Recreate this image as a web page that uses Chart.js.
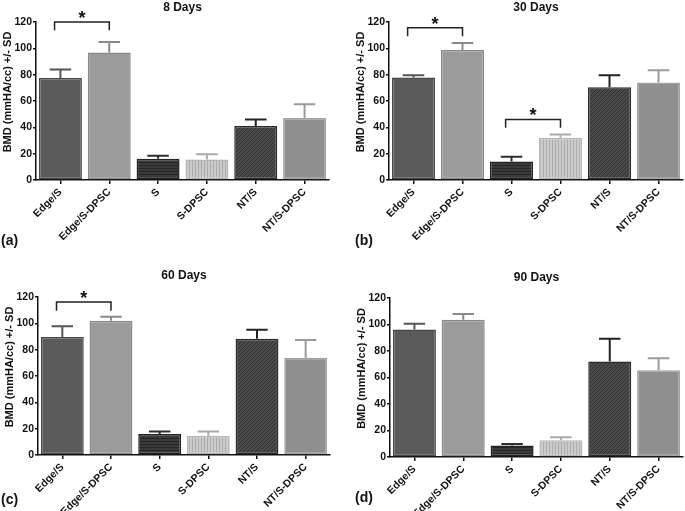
<!DOCTYPE html>
<html>
<head>
<meta charset="utf-8">
<script src="https://cdn.jsdelivr.net/npm/chart.js@4.4.1/dist/chart.umd.min.js"></script>
<style>
  body { margin: 0; background: #fff; }
  #wrap { position: relative; width: 685px; height: 511px; overflow: hidden; }
  canvas { position: absolute; }
  .lab { position: absolute; font: bold 14px "Liberation Sans", Arial, sans-serif; color: #111; line-height: 14px; }
</style>
</head>
<body>
<div id="wrap">
  <canvas id="c8" width="342" height="255" style="left:0;top:0"></canvas>
  <canvas id="c30" width="343" height="255" style="left:342px;top:0"></canvas>
  <canvas id="c60" width="342" height="256" style="left:0;top:255px"></canvas>
  <canvas id="c90" width="343" height="256" style="left:342px;top:255px"></canvas>
  <div class="lab" style="left:1px;top:233px">(a)</div>
  <div class="lab" style="left:355px;top:233px">(b)</div>
  <div class="lab" style="left:1px;top:492px">(c)</div>
  <div class="lab" style="left:355px;top:490px">(d)</div>
</div>
<script>
const groups = ['Edge/S', 'Edge/S-DPSC', 'S', 'S-DPSC', 'NT/S', 'NT/S-DPSC'];
const yTicks = [0, 20, 40, 60, 80, 100, 120];

// mean BMD and SD per group
const bmd8 = [77.5, 96.8, 16.2, 15.6, 41.1, 47.0];
const sd8 = [6.4, 8.0, 2.2, 3.9, 4.9, 10.5];
const bmd30 = [77.8, 98.8, 14.1, 32.1, 70.5, 74.0];
const sd30 = [1.8, 5.2, 3.6, 2.5, 9.1, 9.4];
const bmd60 = [89.6, 102.0, 16.0, 14.7, 88.3, 73.8];
const sd60 = [8.1, 3.0, 1.8, 3.1, 6.9, 13.5];
const bmd90 = [96.3, 103.6, 8.6, 12.6, 72.0, 65.4];
const sd90 = [4.3, 4.3, 1.3, 2.3, 17.2, 9.1];

// significance brackets: [from, to, top, legs]
const sig8 = [[0, 1, 120, 113.7]];
const sig30 = [[0, 1, 115.7, 109.1], [2, 3, 46, 39.7]];
const sig60 = [[0, 1, 116.2, 109.6]];
const sig90 = [];

const FONT = '"Liberation Sans", Arial, sans-serif';

function stripes(base, line, kind) {
  const c = document.createElement('canvas');
  c.width = kind === 'diag' ? 4 : 3;
  c.height = kind === 'diag' ? 4 : 3;
  const g = c.getContext('2d');
  g.fillStyle = base;
  g.fillRect(0, 0, c.width, c.height);
  g.strokeStyle = line;
  g.lineWidth = 1;
  g.beginPath();
  if (kind === 'h') { g.moveTo(0, 0.5); g.lineTo(3, 0.5); }
  else if (kind === 'v') { g.moveTo(0.5, 0); g.lineTo(0.5, 3); }
  else {
    g.moveTo(0, 4); g.lineTo(4, 0);
    g.moveTo(-1, 1); g.lineTo(1, -1);
    g.moveTo(3, 5); g.lineTo(5, 3);
  }
  g.stroke();
  return g.createPattern(c, 'repeat');
}

const fills = [
  '#5b5b5b',
  '#9b9b9b',
  stripes('#3a3a3a', '#262626', 'h'),
  stripes('#cbcbcb', '#adadad', 'v'),
  stripes('#4a4a4a', '#303030', 'diag'),
  '#8f8f8f'
];
const borders = ['#484848', '#888888', '#222222', '#b5b5b5', '#2a2a2a', '#a2a2a2'];
const errColors = ['#555555', '#8a8a8a', '#2e2e2e', '#aaaaaa', '#222222', '#9a9a9a'];

const extras = {
  id: 'extras',
  afterDatasetsDraw(chart, args, opts) {
    const { ctx, scales: { x, y } } = chart;
    const meta = chart.getDatasetMeta(0);
    ctx.save();
    ctx.lineWidth = 2;
    meta.data.forEach((bar, i) => {
      const yTop = y.getPixelForValue(opts.values[i] + opts.sd[i]);
      const half = bar.width / 4;
      ctx.strokeStyle = errColors[i];
      ctx.beginPath();
      ctx.moveTo(bar.x, bar.y);
      ctx.lineTo(bar.x, yTop);
      ctx.moveTo(bar.x - half, yTop);
      ctx.lineTo(bar.x + half, yTop);
      ctx.stroke();
    });

    // brackets + stars
    const step = x.getPixelForValue(1) - x.getPixelForValue(0);
    ctx.strokeStyle = '#222';
    ctx.lineWidth = 1.5;
    ctx.fillStyle = '#111';
    ctx.font = 'bold 18px ' + FONT;
    ctx.textAlign = 'center';
    ctx.textBaseline = 'alphabetic';
    opts.sig.forEach(s => {
      const x1 = x.getPixelForValue(s[0]) - 0.12 * step;
      const x2 = x.getPixelForValue(s[1]);
      const yt = y.getPixelForValue(s[2]);
      const yl = y.getPixelForValue(s[3]);
      ctx.beginPath();
      ctx.moveTo(x1, yl);
      ctx.lineTo(x1, yt);
      ctx.lineTo(x2, yt);
      ctx.lineTo(x2, yl);
      ctx.stroke();
      ctx.fillText('*', (x1 + x2) / 2, yt + 2);
    });
    ctx.restore();
  },
  afterDraw(chart) {
    const { ctx, chartArea } = chart;
    ctx.save();
    ctx.translate(chartArea.left - 28, (chartArea.top + chartArea.bottom) / 2 - 9);
    ctx.rotate(-Math.PI / 2);
    ctx.font = 'bold 11px ' + FONT;
    ctx.fillStyle = '#111';
    ctx.textAlign = 'center';
    ctx.textBaseline = 'middle';
    ctx.fillText('BMD (mmHA/cc) +/- SD', 0, 0);
    ctx.restore();
  }
};

function makeChart(id, title, values, sd, sig, box) {
  const canvas = document.getElementById(id);
  return new Chart(canvas.getContext('2d'), {
    type: 'bar',
    data: {
      labels: groups,
      datasets: [{
        data: values,
        backgroundColor: fills,
        borderColor: borders,
        borderWidth: 1.5,
        borderSkipped: false,
        categoryPercentage: 1,
        barPercentage: 0.88
      }]
    },
    options: {
      responsive: false,
      animation: false,
      layout: { padding: { left: 0, right: canvas.width - box.right, top: 0, bottom: 0 } },
      plugins: {
        legend: { display: false },
        tooltip: { enabled: false },
        title: {
          display: true,
          text: title,
          fullSize: false,
          color: '#111',
          font: { family: FONT, size: 12, weight: 'bold', lineHeight: 1.2 },
          padding: { top: box.tp, bottom: box.top - box.tp - 14.4 }
        },
        extras: { values: values, sd: sd, sig: sig }
      },
      scales: {
        x: {
          grid: { offset: false, drawOnChartArea: false, drawTicks: true, tickLength: 4, color: '#111', lineWidth: 1.5 },
          border: { display: true, color: '#111', width: 1.5 },
          ticks: {
            color: '#111',
            minRotation: 45,
            maxRotation: 45,
            padding: 2,
            font: { family: FONT, size: 10.5, weight: 'bold' }
          },
          afterFit(scale) {
            scale.height = canvas.height - box.bottom;
            scale.paddingLeft = 0;
            scale.paddingRight = 0;
          }
        },
        y: {
          min: 0,
          max: 120,
          grid: { drawOnChartArea: false, drawTicks: true, tickLength: 3, color: '#111', lineWidth: 1.5 },
          border: { display: true, color: '#111', width: 1.5 },
          ticks: {
            color: '#111',
            padding: 1,
            font: { family: FONT, size: 10.5, weight: 'bold' }
          },
          afterBuildTicks(scale) {
            scale.ticks = yTicks.map(v => ({ value: v }));
          },
          afterFit(scale) {
            scale.width = box.left;
            scale.paddingTop = 0;
            scale.paddingBottom = 0;
          }
        }
      }
    },
    plugins: [extras]
  });
}

makeChart('c8', '8 Days', bmd8, sd8, sig8, { left: 36, right: 329, top: 22, bottom: 180, tp: 0 });
makeChart('c30', '30 Days', bmd30, sd30, sig30, { left: 47, right: 341, top: 22, bottom: 180, tp: 0 });
makeChart('c60', '60 Days', bmd60, sd60, sig60, { left: 38, right: 330, top: 42, bottom: 200, tp: 13 });
makeChart('c90', '90 Days', bmd90, sd90, sig90, { left: 48, right: 341, top: 43, bottom: 202, tp: 15.5 });
</script>
</body>
</html>
